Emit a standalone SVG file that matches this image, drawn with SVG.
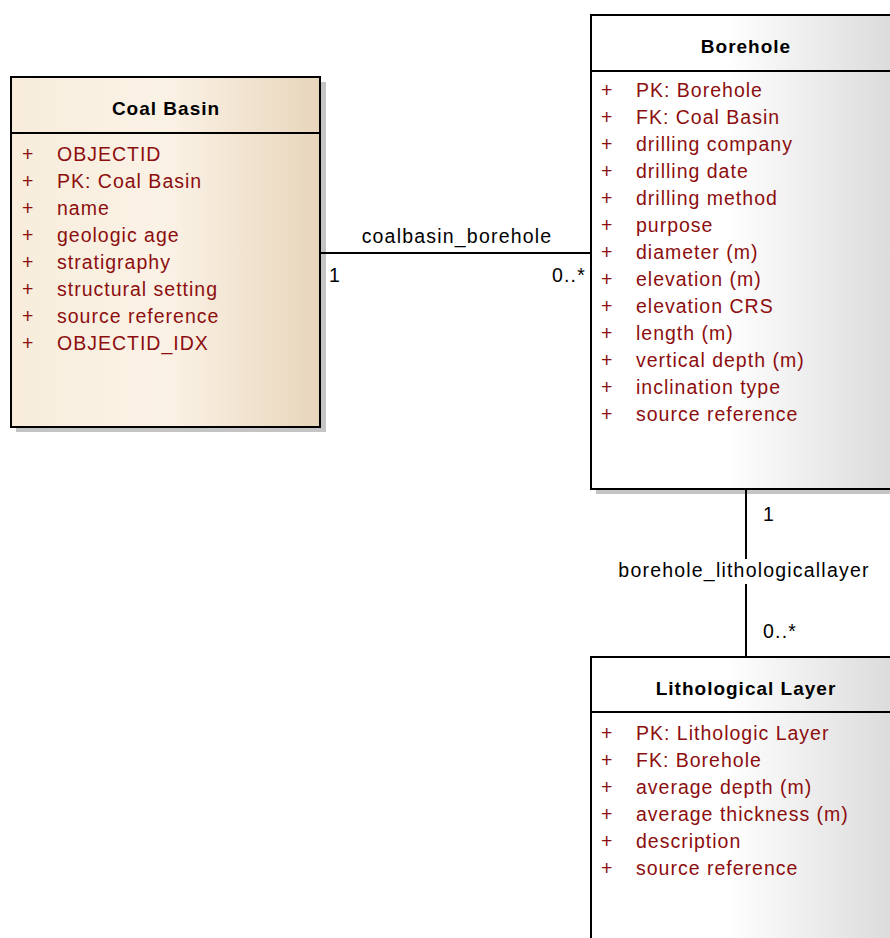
<svg xmlns="http://www.w3.org/2000/svg" width="890" height="938" viewBox="0 0 890 938">
  <defs>
    <linearGradient id="gradBasin" x1="11" y1="0" x2="320" y2="0" gradientUnits="userSpaceOnUse">
      <stop offset="0" stop-color="#F8EDDC"/>
      <stop offset="0.5" stop-color="#FBF2E6"/>
      <stop offset="1" stop-color="#E8D6BC"/>
    </linearGradient>
    <linearGradient id="gradGray" x1="591" y1="0" x2="890" y2="0" gradientUnits="userSpaceOnUse">
      <stop offset="0" stop-color="#FFFFFF"/>
      <stop offset="0.45" stop-color="#FFFFFF"/>
      <stop offset="1" stop-color="#DCDCDC"/>
    </linearGradient>
  </defs>
  <style>
    .shadow { fill: #C4C4C4; }
    .box { stroke: #000; stroke-width: 2; }
    .divider { stroke: #000; stroke-width: 2; }
    .title { font-family: "Liberation Sans", Arial, sans-serif; font-size: 19px; font-weight: bold; fill: #000; letter-spacing: 1px; text-anchor: middle; }
    .attr { font-family: "Liberation Sans", Arial, sans-serif; font-size: 19.5px; fill: #8C0E0E; letter-spacing: 1px; }
    .label { font-family: "Liberation Sans", Arial, sans-serif; font-size: 19.5px; fill: #000; letter-spacing: 1.2px; }
    .conn { stroke: #000; stroke-width: 2; fill: none; }
  </style>
  <rect width="890" height="938" fill="#FFFFFF"/>

  <!-- Coal Basin -->
  <g id="coal-basin">
    <rect class="shadow" x="16" y="82" width="310" height="350"/>
    <rect class="box" x="11" y="77" width="309" height="350" fill="url(#gradBasin)"/>
    <line class="divider" x1="11" y1="133" x2="320" y2="133"/>
    <text class="title" x="166" y="115">Coal Basin</text>
    <g class="attr">
      <text x="22" y="161">+</text><text x="57" y="161">OBJECTID</text>
      <text x="22" y="188">+</text><text x="57" y="188">PK: Coal Basin</text>
      <text x="22" y="215">+</text><text x="57" y="215">name</text>
      <text x="22" y="242">+</text><text x="57" y="242">geologic age</text>
      <text x="22" y="269">+</text><text x="57" y="269">stratigraphy</text>
      <text x="22" y="296">+</text><text x="57" y="296">structural setting</text>
      <text x="22" y="323">+</text><text x="57" y="323">source reference</text>
      <text x="22" y="350">+</text><text x="57" y="350">OBJECTID_IDX</text>
    </g>
  </g>

  <!-- Borehole -->
  <g id="borehole">
    <rect class="shadow" x="596" y="20" width="310" height="474"/>
    <rect class="box" x="591" y="15" width="310" height="474" fill="url(#gradGray)"/>
    <line class="divider" x1="591" y1="71" x2="901" y2="71"/>
    <text class="title" x="746" y="53">Borehole</text>
    <g class="attr">
      <text x="601" y="97">+</text><text x="636" y="97">PK: Borehole</text>
      <text x="601" y="124">+</text><text x="636" y="124">FK: Coal Basin</text>
      <text x="601" y="151">+</text><text x="636" y="151">drilling company</text>
      <text x="601" y="178">+</text><text x="636" y="178">drilling date</text>
      <text x="601" y="205">+</text><text x="636" y="205">drilling method</text>
      <text x="601" y="232">+</text><text x="636" y="232">purpose</text>
      <text x="601" y="259">+</text><text x="636" y="259">diameter (m)</text>
      <text x="601" y="286">+</text><text x="636" y="286">elevation (m)</text>
      <text x="601" y="313">+</text><text x="636" y="313">elevation CRS</text>
      <text x="601" y="340">+</text><text x="636" y="340">length (m)</text>
      <text x="601" y="367">+</text><text x="636" y="367">vertical depth (m)</text>
      <text x="601" y="394">+</text><text x="636" y="394">inclination type</text>
      <text x="601" y="421">+</text><text x="636" y="421">source reference</text>
    </g>
  </g>

  <!-- Lithological Layer -->
  <g id="lithological-layer">
    <rect class="box" x="591" y="657" width="310" height="300" fill="url(#gradGray)"/>
    <line class="divider" x1="591" y1="712" x2="901" y2="712"/>
    <text class="title" x="746" y="695">Lithological Layer</text>
    <g class="attr">
      <text x="601" y="740">+</text><text x="636" y="740">PK: Lithologic Layer</text>
      <text x="601" y="767">+</text><text x="636" y="767">FK: Borehole</text>
      <text x="601" y="794">+</text><text x="636" y="794">average depth (m)</text>
      <text x="601" y="821">+</text><text x="636" y="821">average thickness (m)</text>
      <text x="601" y="848">+</text><text x="636" y="848">description</text>
      <text x="601" y="875">+</text><text x="636" y="875">source reference</text>
    </g>
  </g>

  <!-- Associations, drawn over the node shadows -->
  <g id="connectors">
    <g id="coalbasin_borehole">
      <line class="conn" x1="321" y1="253" x2="591" y2="253"/>
      <text class="label" x="457" y="243" text-anchor="middle">coalbasin_borehole</text>
      <text class="label" x="329" y="282">1</text>
      <text class="label" x="586" y="282" text-anchor="end">0..*</text>
    </g>
    <g id="borehole_lithologicallayer">
      <line class="conn" x1="746" y1="490" x2="746" y2="657"/>
      <rect x="612" y="559" width="264" height="25" fill="#FFFFFF"/>
      <text class="label" x="744" y="577" text-anchor="middle">borehole_lithologicallayer</text>
      <text class="label" x="763" y="521">1</text>
      <text class="label" x="763" y="638">0..*</text>
    </g>
  </g>
</svg>
